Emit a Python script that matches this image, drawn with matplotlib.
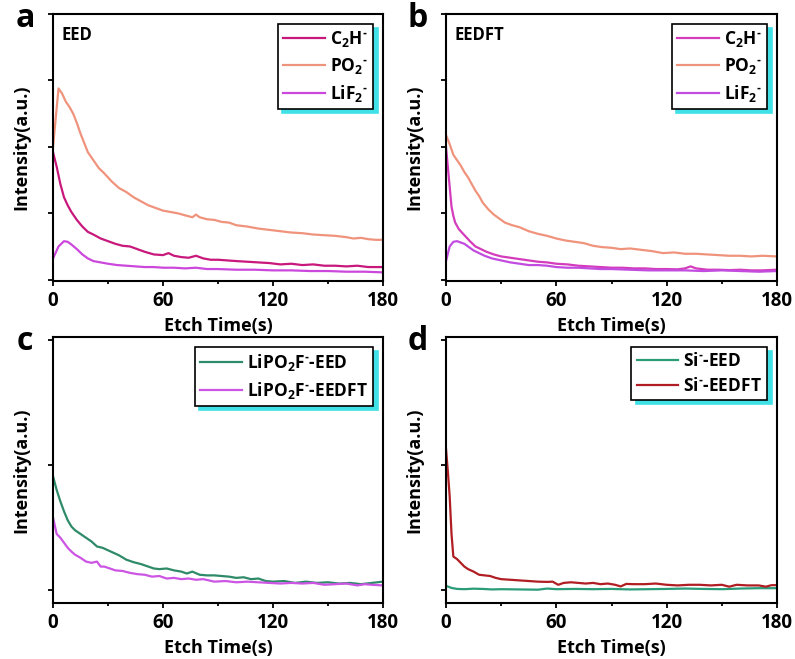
import matplotlib
matplotlib.use("Agg")
import matplotlib.pyplot as plt
from matplotlib.ticker import MultipleLocator

plt.rcParams['font.family'] = ['Open Sans', 'DejaVu Sans']
plt.rcParams['font.weight'] = 'bold'
plt.rcParams['mathtext.fontset'] = 'custom'
plt.rcParams['mathtext.rm'] = 'Open Sans:bold'
plt.rcParams['mathtext.bf'] = 'Open Sans:bold'
plt.rcParams['mathtext.default'] = 'bf'

# ---- panel a : EED ----
a_c2h_t = [0, 2, 4, 6, 8, 10, 13, 16, 19, 22, 26, 30, 34, 38, 42, 46, 50, 55, 60, 63, 66, 70, 74, 78, 82, 86,
           90, 95, 100, 106, 112, 118, 124, 130, 136, 142, 148, 154, 160, 166, 172, 180]
a_c2h_v = [0.96, 0.85, 0.72, 0.62, 0.56, 0.51, 0.45, 0.40, 0.36, 0.34, 0.31, 0.29, 0.27, 0.255, 0.25, 0.23, 0.21,
           0.19, 0.185, 0.20, 0.18, 0.17, 0.165, 0.18, 0.16, 0.15, 0.15, 0.145, 0.14, 0.135, 0.13, 0.125, 0.115,
           0.12, 0.11, 0.115, 0.105, 0.105, 0.10, 0.105, 0.095, 0.095]
a_po2_t = [0, 3, 5, 7, 9, 11, 13, 15, 17, 19, 22, 25, 28, 32, 36, 40, 44, 48, 52, 56, 60, 64, 68, 72, 76, 78, 80,
           84, 88, 92, 96, 100, 106, 112, 118, 124, 130, 136, 142, 148, 154, 160, 164, 168, 172, 176, 180]
a_po2_v = [1.0, 1.44, 1.40, 1.34, 1.30, 1.25, 1.18, 1.10, 1.03, 0.96, 0.90, 0.84, 0.80, 0.74, 0.69, 0.66, 0.62,
           0.59, 0.56, 0.54, 0.52, 0.51, 0.50, 0.485, 0.47, 0.49, 0.47, 0.455, 0.45, 0.435, 0.43, 0.41, 0.40,
           0.385, 0.375, 0.365, 0.355, 0.35, 0.34, 0.335, 0.33, 0.32, 0.31, 0.315, 0.305, 0.30, 0.30]
a_lif2_t = [0, 3, 6, 8, 10, 13, 16, 19, 22, 26, 30, 35, 40, 45, 50, 55, 60, 66, 72, 78, 84, 90, 100, 110, 120,
            130, 140, 150, 160, 170, 180]
a_lif2_v = [0.16, 0.25, 0.29, 0.285, 0.265, 0.23, 0.19, 0.16, 0.14, 0.13, 0.12, 0.11, 0.105, 0.10, 0.095, 0.095,
            0.09, 0.09, 0.085, 0.09, 0.08, 0.08, 0.075, 0.075, 0.07, 0.07, 0.065, 0.065, 0.06, 0.06, 0.055]

# ---- panel b : EEDFT ----
b_c2h_t = [0, 1, 2, 3, 4, 5, 7, 9, 11, 13, 16, 19, 22, 26, 30, 35, 40, 45, 50, 55, 60, 66, 72, 78, 84, 90, 96,
           102, 108, 114, 120, 126, 130, 133, 136, 142, 148, 154, 160, 166, 172, 180]
b_c2h_v = [1.0, 0.85, 0.70, 0.55, 0.48, 0.43, 0.38, 0.35, 0.32, 0.29, 0.25, 0.23, 0.21, 0.19, 0.175, 0.165,
           0.155, 0.145, 0.135, 0.13, 0.12, 0.115, 0.105, 0.10, 0.095, 0.09, 0.09, 0.085, 0.085, 0.08, 0.08,
           0.078, 0.085, 0.10, 0.085, 0.075, 0.075, 0.072, 0.075, 0.07, 0.07, 0.075]
b_po2_t = [0, 2, 4, 6, 8, 10, 12, 14, 16, 18, 20, 23, 26, 29, 32, 36, 40, 45, 50, 55, 60, 65, 70, 75, 80, 85,
           90, 95, 100, 106, 112, 118, 124, 130, 136, 142, 148, 154, 160, 166, 172, 180]
b_po2_v = [1.09, 1.02, 0.94, 0.90, 0.86, 0.81, 0.77, 0.72, 0.67, 0.63, 0.58, 0.53, 0.49, 0.46, 0.43, 0.41,
           0.395, 0.365, 0.345, 0.33, 0.31, 0.295, 0.285, 0.275, 0.255, 0.245, 0.24, 0.23, 0.235, 0.225, 0.215,
           0.20, 0.205, 0.195, 0.195, 0.19, 0.185, 0.18, 0.18, 0.175, 0.18, 0.175]
b_lif2_t = [0, 2, 4, 6, 8, 10, 12, 15, 18, 21, 25, 30, 35, 40, 45, 50, 55, 60, 66, 72, 78, 84, 90, 100, 110,
            120, 130, 140, 150, 160, 170, 180]
b_lif2_v = [0.14, 0.25, 0.285, 0.29, 0.28, 0.27, 0.25, 0.22, 0.20, 0.18, 0.16, 0.145, 0.13, 0.12, 0.11, 0.11,
            0.105, 0.095, 0.09, 0.09, 0.085, 0.08, 0.08, 0.075, 0.07, 0.07, 0.07, 0.065, 0.07, 0.065, 0.06, 0.065]

# ---- panel c : LiPO2F- ----
c_eed_t = [0, 2, 4, 6, 8, 10, 12, 15, 18, 21, 24, 27, 30, 33, 36, 40, 44, 48, 52, 55, 58, 62, 66, 70, 73, 76,
           80, 84, 88, 92, 96, 100, 104, 108, 112, 116, 120, 126, 132, 138, 144, 150, 156, 162, 168, 174, 180]
c_eed_v = [0.91, 0.80, 0.71, 0.63, 0.56, 0.51, 0.48, 0.45, 0.42, 0.39, 0.35, 0.34, 0.32, 0.30, 0.28, 0.245,
           0.225, 0.21, 0.19, 0.175, 0.17, 0.175, 0.16, 0.15, 0.135, 0.15, 0.125, 0.12, 0.12, 0.115, 0.11, 0.10,
           0.105, 0.09, 0.095, 0.075, 0.07, 0.075, 0.06, 0.07, 0.06, 0.065, 0.055, 0.06, 0.05, 0.06, 0.07]
c_eedft_t = [0, 2, 4, 6, 8, 10, 12, 15, 18, 21, 24, 26, 28, 31, 34, 38, 42, 46, 50, 54, 58, 62, 66, 70, 74, 78,
             82, 88, 94, 100, 106, 112, 118, 124, 130, 136, 142, 148, 154, 160, 166, 170, 174, 180]
c_eedft_v = [0.58, 0.45, 0.42, 0.38, 0.34, 0.31, 0.285, 0.26, 0.23, 0.22, 0.23, 0.19, 0.19, 0.175, 0.16, 0.155,
             0.14, 0.13, 0.125, 0.11, 0.115, 0.095, 0.10, 0.09, 0.095, 0.085, 0.09, 0.07, 0.075, 0.065, 0.07,
             0.065, 0.06, 0.055, 0.06, 0.055, 0.06, 0.045, 0.05, 0.055, 0.04, 0.05, 0.045, 0.04]

# ---- panel d : Si- ----
d_eed_t = [0, 3, 6, 10, 15, 20, 25, 30, 40, 50, 55, 60, 70, 80, 90, 100, 110, 120, 130, 140, 150, 160, 170, 180]
d_eed_v = [0.037, 0.02, 0.012, 0.01, 0.014, 0.012, 0.008, 0.01, 0.008, 0.006, 0.015, 0.01, 0.012, 0.01, 0.012,
           0.008, 0.01, 0.012, 0.015, 0.012, 0.01, 0.015, 0.018, 0.018]
d_eedft_t = [0, 1, 2, 3, 4, 6, 8, 10, 12, 15, 18, 21, 24, 27, 30, 35, 40, 45, 50, 55, 58, 61, 64, 68, 72, 76,
             80, 84, 88, 92, 95, 98, 102, 108, 114, 120, 126, 132, 138, 144, 150, 154, 158, 164, 170, 174, 177, 180]
d_eedft_v = [1.13, 0.95, 0.75, 0.45, 0.27, 0.25, 0.22, 0.19, 0.17, 0.15, 0.125, 0.12, 0.115, 0.10, 0.09, 0.085,
             0.08, 0.075, 0.07, 0.068, 0.07, 0.045, 0.06, 0.065, 0.06, 0.055, 0.06, 0.05, 0.055, 0.045, 0.032,
             0.052, 0.05, 0.05, 0.055, 0.045, 0.04, 0.045, 0.045, 0.04, 0.045, 0.03, 0.045, 0.04, 0.04, 0.03,
             0.042, 0.042]

x_ticks = [0, 60, 120, 180]
SUP = '$^{\u2010}$'   # short superscript dash, like the original labels

fig = plt.figure(figsize=(7.95, 6.59), dpi=100)
ax_a = fig.add_axes([0.0667, 0.5736, 0.415, 0.405])
ax_b = fig.add_axes([0.561, 0.5736, 0.4164, 0.405])
ax_c = fig.add_axes([0.0667, 0.085, 0.415, 0.4036])
ax_d = fig.add_axes([0.561, 0.085, 0.4164, 0.4036])


def style_axis(ax, letter, ylim, ystep, tag=None):
	ax.set_xlim(0, 180)
	ax.set_ylim(*ylim)
	ax.set_xticks(x_ticks)
	ax.xaxis.set_minor_locator(MultipleLocator(30))
	ax.yaxis.set_major_locator(MultipleLocator(ystep))
	ax.set_yticklabels([])
	ax.tick_params(axis='both', which='both', direction='out', width=1.3)
	ax.tick_params(axis='both', which='major', length=3.5, labelsize=13.5, pad=4)
	ax.tick_params(axis='x', which='minor', length=2.5)
	for s in ax.spines.values():
		s.set_linewidth(1.5)
	ax.set_xlabel('Etch Time(s)', fontsize=13, fontweight='bold', labelpad=4)
	ax.set_ylabel('Intensity(a.u.)', fontsize=13, fontweight='bold', labelpad=9)
	ax.text(-0.085, 1.045, letter, transform=ax.transAxes, fontsize=23, fontweight='bold',
			ha='center', va='top')
	if tag:
		ax.text(0.025, 0.955, tag, transform=ax.transAxes, fontsize=12, fontweight='bold',
				ha='left', va='top')


def add_legend(ax):
	leg = ax.legend(loc='upper right', fontsize=12.5, fancybox=False, edgecolor='black',
					framealpha=1, handlelength=2.4, handletextpad=0.3, borderpad=0.3,
					labelspacing=0.4, borderaxespad=0.55,
					shadow={'color': '#3fe0e6', 'alpha': 1, 'ox': 3, 'oy': -3})
	leg.get_frame().set_linewidth(1.2)


# a
ax_a.plot(a_c2h_t, a_c2h_v, color='#c8187c', lw=1.6, label='C$_2$H' + SUP)
ax_a.plot(a_po2_t, a_po2_v, color='#f0937c', lw=1.6, label='PO$_2$' + SUP)
ax_a.plot(a_lif2_t, a_lif2_v, color='#cc48dc', lw=1.6, label='LiF$_2$' + SUP)
style_axis(ax_a, 'a', (-0.01, 2.0), 0.5, 'EED')
add_legend(ax_a)

# b
ax_b.plot(b_c2h_t, b_c2h_v, color='#d43cbc', lw=1.6, label='C$_2$H' + SUP)
ax_b.plot(b_po2_t, b_po2_v, color='#f0937c', lw=1.6, label='PO$_2$' + SUP)
ax_b.plot(b_lif2_t, b_lif2_v, color='#c24ce0', lw=1.6, label='LiF$_2$' + SUP)
style_axis(ax_b, 'b', (-0.01, 2.0), 0.5, 'EEDFT')
add_legend(ax_b)

# c
ax_c.plot(c_eed_t, c_eed_v, color='#2e8a68', lw=1.6, label='LiPO$_2$F' + SUP + '-EED')
ax_c.plot(c_eedft_t, c_eedft_v, color='#cc55e4', lw=1.6, label='LiPO$_2$F' + SUP + '-EEDFT')
style_axis(ax_c, 'c', (-0.1, 2.02), 1.0)
add_legend(ax_c)

# d
ax_d.plot(d_eed_t, d_eed_v, color='#2a9c78', lw=1.6, label='Si' + SUP + '-EED')
ax_d.plot(d_eedft_t, d_eedft_v, color='#b01e24', lw=1.6, label='Si' + SUP + '-EEDFT')
style_axis(ax_d, 'd', (-0.1, 2.02), 1.0)
add_legend(ax_d)

fig.savefig('out.png', dpi=100)
